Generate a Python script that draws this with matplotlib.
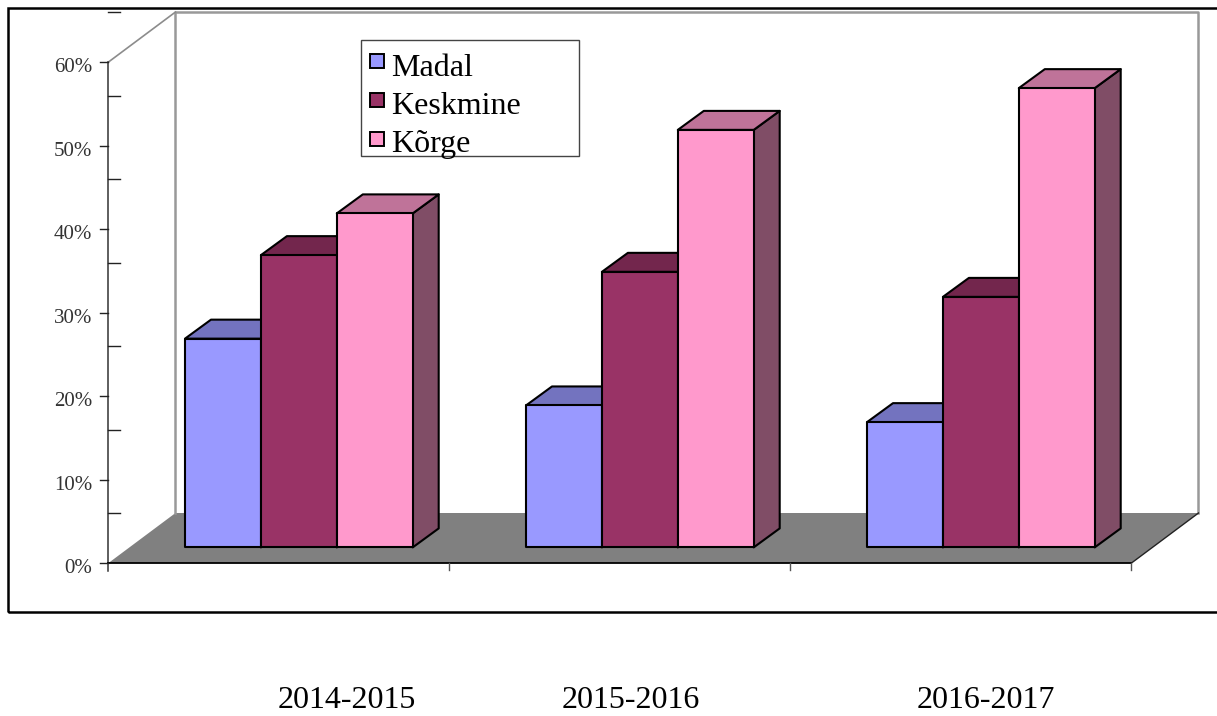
import matplotlib
matplotlib.use("Agg")
import matplotlib.pyplot as plt
from matplotlib.colors import to_rgb
from matplotlib.patches import Polygon, Rectangle

plt.rcParams["font.family"] = ["Liberation Serif", "DejaVu Serif"]

periods = ["2014-2015", "2015-2016", "2016-2017"]
series = ["Madal", "Keskmine", "Kõrge"]
madal = [25, 17, 15]
keskmine = [35, 33, 30]
korge = [40, 50, 55]
values = [madal, keskmine, korge]
colors = ["#9999FF", "#993366", "#FF99CC"]
y_ticks = [0, 10, 20, 30, 40, 50, 60]

W, H = 1217, 716
PX_X = 341.0    # pixels for one category
PX_Y = 8.35     # pixels for one percent
X0, Y0 = 108.5, 563


# pixel offsets -> data units
def dx(px):
    return px / PX_X


def dy(px):
    return px / PX_Y


def to_x(px):
    return (px - X0) / PX_X


def to_y(py):
    return (Y0 - py) / PX_Y


fig = plt.figure(figsize=(W / 100, H / 100), dpi=100)
ax = fig.add_axes([0, 0, 1, 1])
ax.set_xlim(to_x(0), to_x(W))
ax.set_ylim(to_y(H), to_y(0))
ax.axis("off")

# outer frame, runs off the right edge
ax.add_patch(Rectangle((to_x(8), to_y(612)), dx(1240), dy(604), fill=False, ec="black", lw=1.8))

n_cat = len(periods)
top = y_ticks[-1]
depth_x, depth_y = dx(67), dy(50)

# floor and walls
ax.add_patch(Polygon([(0, 0), (n_cat, 0), (n_cat + depth_x, depth_y), (depth_x, depth_y)],
                     fc="#808080", ec="none", zorder=1))
wall_col = "#999999"
ax.plot([depth_x, depth_x, n_cat + depth_x, n_cat + depth_x],
        [depth_y, top + depth_y, top + depth_y, depth_y], color=wall_col, lw=1.8, zorder=1)
ax.plot([0, depth_x], [top, top + depth_y], color="#8c8c8c", lw=1.2, zorder=1)
ax.plot([n_cat, n_cat + depth_x], [0, depth_y], color="#222222", lw=1.0, zorder=2)

# axes and ticks
ax.plot([0, 0], [-dy(8), top], color="#333333", lw=1.1, zorder=2)
ax.plot([0, n_cat], [0, 0], color="black", lw=1.3, zorder=2)
for t in y_ticks:
    ax.plot([-dx(8), 0], [t, t], color="#222222", lw=1.0)
    ax.plot([0, dx(12)], [t + depth_y, t + depth_y], color="#222222", lw=1.0)
    ax.text(-dx(16.5), t - dy(10), f"{t}%", ha="right", va="baseline", fontsize=15, color="#333333")
for i in range(1, n_cat + 1):
    ax.plot([i, i], [0, -dy(7)], color="#555555", lw=1.0)

# bars
bar_w = dx(75.9)
bar_start = dx(76.5)
base = dy(15.6)
bar_dx, bar_dy = dx(26), dy(19)
for s, vals in enumerate(values):
    rgb = to_rgb(colors[s])
    top_col = tuple(c * 0.75 for c in rgb)
    side_col = tuple(c * 0.5 for c in rgb)
    for i, v in enumerate(vals):
        x1 = i + bar_start + s * bar_w
        x2 = x1 + bar_w
        y2 = base + v
        style = dict(ec="black", lw=1.5, joinstyle="round", zorder=3 + i * 3 + s * 0.1)
        ax.add_patch(Polygon([(x2, base), (x2 + bar_dx, base + bar_dy), (x2 + bar_dx, y2 + bar_dy), (x2, y2)],
                             fc=side_col, **style))
        ax.add_patch(Polygon([(x1, y2), (x2, y2), (x2 + bar_dx, y2 + bar_dy), (x1 + bar_dx, y2 + bar_dy)],
                             fc=top_col, **style))
        ax.add_patch(Rectangle((x1, base), bar_w, v, fc=colors[s], **style))

# legend
ax.add_patch(Rectangle((to_x(361), to_y(156)), dx(218), dy(116), fc="white", ec="#444444", lw=1.0, zorder=20))
swatch_y = [61, 100, 139]
legend_base = [76, 114, 152]
for name, col, py, by in zip(series, colors, swatch_y, legend_base):
    ax.add_patch(Rectangle((to_x(370), to_y(py + 7)), dx(14), dy(14), fc=col, ec="black", lw=1.4, zorder=21))
    ax.text(to_x(391), to_y(by), name, ha="left", va="baseline", fontsize=23, color="black", zorder=21)

# category labels sit below the frame, not centred on the categories
label_px = [347, 631, 986]
for name, px in zip(periods, label_px):
    ax.text(to_x(px), to_y(708.5), name, ha="center", va="baseline", fontsize=23, color="black")

fig.savefig("out.png", dpi=100)
